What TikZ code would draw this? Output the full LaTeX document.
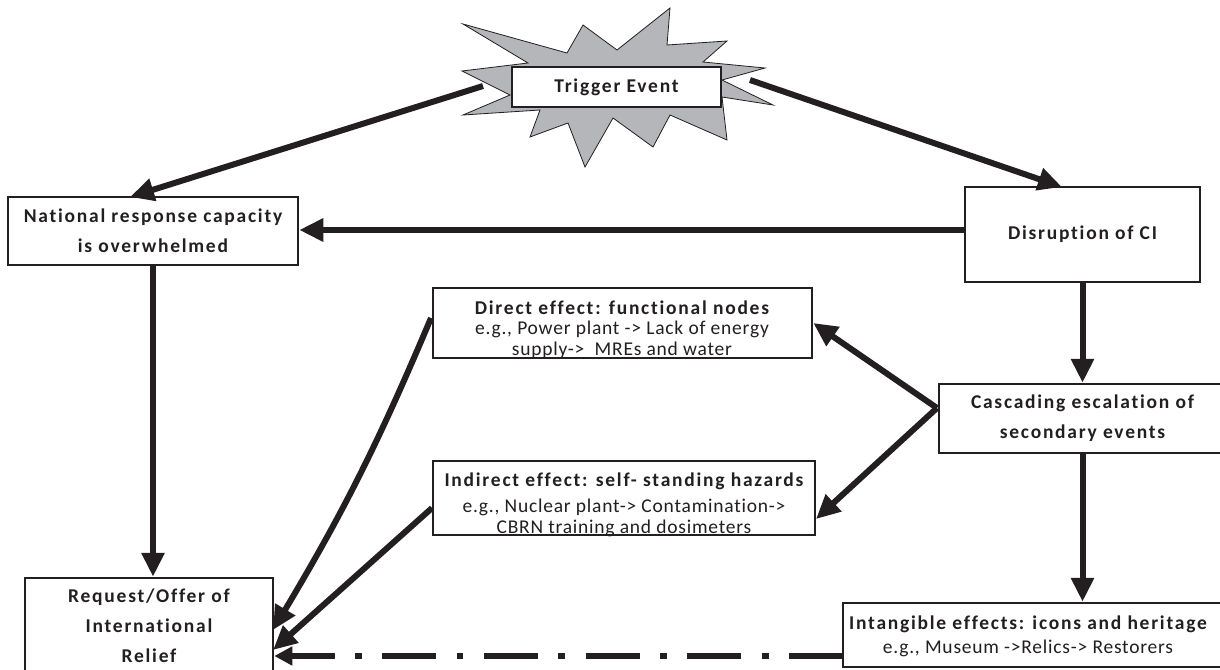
\documentclass[tikz,border=0pt]{standalone}
\usepackage{fontspec}
\setmainfont{Carlito}[Ligatures={TeX,NoCommon}]
\usetikzlibrary{arrows.meta,calc}
\definecolor{ink}{HTML}{231F20}
\definecolor{burst}{HTML}{B4B6B9}
\newcommand{\hdfont}{\bfseries\addfontfeature{LetterSpace=9}}
\newcommand{\rgfont}{\addfontfeature{LetterSpace=4}}
\begin{document}
\begin{tikzpicture}[x=1pt,y=-1pt,
  box/.style={draw=ink,line width=2.5pt,fill=white,inner sep=0pt,rectangle},
  lbl/.style={text=ink,align=center,inner sep=0pt,font=\fontsize{19.5}{30}\selectfont\hdfont},
  txt/.style={text=ink,align=center,inner sep=0pt,font=\fontsize{19.5}{21}\selectfont\rgfont},
  conn/.style={draw=ink,line width=6pt,-{Triangle[length=24pt,width=22pt]}},
  dd/.style={draw=ink,line width=6.5pt,dash pattern=on 54pt off 20.5pt on 6.7pt off 20.5pt,-{Triangle[length=18pt,width=18pt]}},
]
\fill[white] (0,0) rectangle (1220,669);
\useasboundingbox (0,0) rectangle (1220,669);

% starburst
\draw[ink,line width=0.8pt,fill=burst] (463,24) -- (567,53) -- (583,25) -- (617,50) -- (670,8) -- (667,45) -- (727,41) -- (703,62) -- (765,68) -- (722,80) -- (773,105) -- (722,97) -- (727,140) -- (670,115) -- (653,147) -- (613,118) -- (585,167) -- (568,123) -- (530,137) -- (540,110) -- (463,115) -- (510,95) -- (462,71) -- (528,63) -- cycle;

% boxes
\node[box,lbl,minimum width=209,minimum height=40] (trig) at (616.5,87) {Trigger Event};
\node[box,lbl,minimum width=290,minimum height=68] (nat) at (153,231) {National response capacity\\is overwhelmed};
\node[box,lbl,minimum width=235,minimum height=95] (dis) at (1082.5,234.5) {Disruption of CI};
\node[box,minimum width=379,minimum height=70] (dir) at (622.5,323) {};
\node[box,minimum width=382,minimum height=74] (ind) at (624,498) {};
\node[box,lbl,minimum width=287,minimum height=69] (cas) at (1082.5,418.5) {Cascading escalation of\\secondary events};
\node[box,lbl,minimum width=248,minimum height=96] (req) at (149,626) {Request/Offer of\\International\\Relief};
\node[box,minimum width=383,minimum height=64] (int) at (1034.5,635) {};

% texts in boxes
\node[lbl] (dirH) at (622,308) {Direct effect: functional nodes};
\node[txt] (dirT) at (622,340) {e.g., Power plant -> Lack of energy\\supply->\ \ MREs and water};
\node[lbl] (indH) at (624,481) {Indirect effect: self- standing hazards};
\node[txt] (indT) at (624,518) {e.g., Nuclear plant-> Contamination->\\CBRN training and dosimeters};
\node[lbl] (intH) at (1028,624) {Intangible effects: icons and heritage};
\node[txt] (intT) at (1028,648) {e.g., Museum ->Relics-> Restorers};

% connector ends
\coordinate (tL) at (483,86);
\coordinate (natIn) at (130,197);
\coordinate (tR) at (750,80);
\coordinate (disIn) at (1062,187);
\coordinate (y230) at (0,230);
\coordinate (cs) at (937,408);
\coordinate (indIn) at (816,519);
\coordinate (rA) at (273,630);
\coordinate (rB) at (273,650);
\coordinate (dirOut) at (431,318);
\coordinate (indOut) at (432,508);
\coordinate (intOut) at (843,656);

% connectors
\draw[conn] (tL) -- (natIn);
\draw[conn] (tR) -- (disIn);
\draw[conn] (dis.west |- y230) -- (nat.east |- y230);
\draw[conn] (nat.south) -- (nat.south |- req.north);
\draw[conn] (dis.south) -- (dis.south |- cas.north);
\draw[conn] (cs) -- (dir.east);
\draw[conn] (cs) -- (indIn);
\draw[conn] (cas.south) -- (cas.south |- int.north);
\draw[conn] (dirOut) to[bend left=4] (rA);
\draw[conn] (indOut) -- (rB);
\draw[dd] (intOut) -- (intOut -| req.east);
\end{tikzpicture}
\end{document}
